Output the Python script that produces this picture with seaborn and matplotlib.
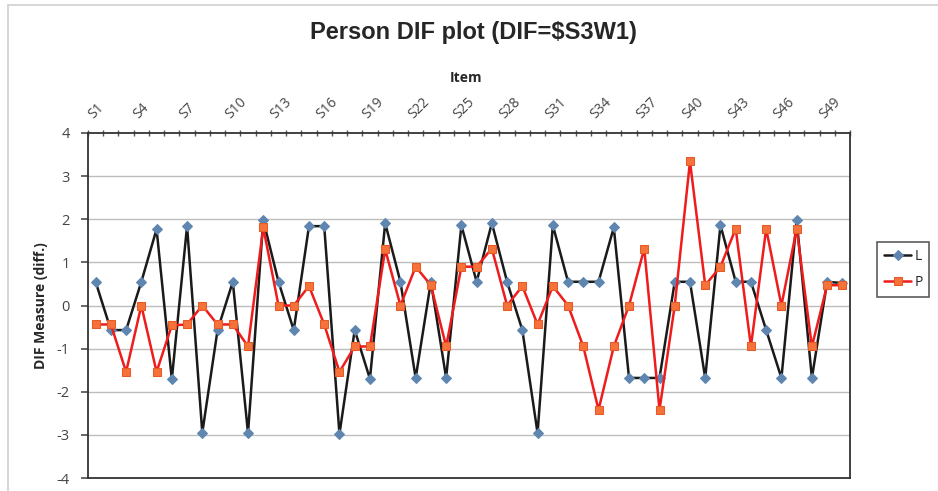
import numpy as np
import pandas as pd
import matplotlib
matplotlib.use("Agg")
import matplotlib.pyplot as plt
import seaborn as sns
from matplotlib.lines import Line2D

items = [f"S{i}" for i in range(1, 51)]
L_vals = [0.55, -0.57, -0.57, 0.55, 1.77, -1.71, 1.84, -2.95, -0.57, 0.55,
          -2.96, 1.98, 0.55, -0.57, 1.84, 1.84, -2.98, -0.57, -1.70, 1.91,
          0.55, -1.68, 0.55, -1.68, 1.86, 0.55, 1.91, 0.55, -0.57, -2.96,
          1.86, 0.55, 0.55, 0.55, 1.81, -1.68, -1.68, -1.68, 0.55, 0.55,
          -1.68, 1.86, 0.55, 0.55, -0.57, -1.68, 1.98, -1.68, 0.55, 0.52]
P_vals = [-0.44, -0.44, -1.54, 0.0, -1.54, -0.46, -0.44, 0.0, -0.44, -0.44,
          -0.95, 1.81, 0.0, 0.0, 0.45, -0.44, -1.54, -0.95, -0.95, 1.30,
          0.0, 0.90, 0.47, -0.95, 0.90, 0.90, 1.32, 0.0, 0.45, -0.44,
          0.45, 0.0, -0.95, -2.42, -0.95, 0.0, 1.32, -2.42, 0.0, 3.34,
          0.47, 0.90, 1.78, -0.95, 1.78, 0.0, 1.78, -0.95, 0.47, 0.47]
y_ticks = [-4, -3, -2, -1, 0, 1, 2, 3, 4]

df = pd.DataFrame({"pos": np.arange(len(items)), "item": items, "L": L_vals, "P": P_vals})

sns.set_theme(style="white")
plt.rcParams["font.family"] = ["Open Sans", "DejaVu Sans"]

fig = plt.figure(figsize=(9.38, 4.91), dpi=100)
ax = fig.add_axes([88/938, 1-478/491, (850-88)/938, (478-133)/491])

sns.lineplot(data=df, x="pos", y="L", ax=ax, color="#1a1a1a", lw=1.8,
             marker="D", markersize=5, markerfacecolor="#5f86b0",
             markeredgecolor="#5f86b0", label="L")
sns.lineplot(data=df, x="pos", y="P", ax=ax, color="#ee1c1c", lw=1.8,
             marker="s", markersize=6, markerfacecolor="#f5733a",
             markeredgecolor="#e85a25", label="P")

ax.set_xlim(-0.5, len(items) - 0.5)
ax.set_ylim(-4, 4)
ax.set_yticks(y_ticks)
ax.set_yticklabels([str(v) for v in y_ticks], fontsize=10.5, color="#444444")
for v in y_ticks[1:-1]:
    ax.axhline(v, color="#bdbdbd", lw=1.0, zorder=0)

ax.xaxis.tick_top()
ax.xaxis.set_label_position("top")
tick_pos = list(range(0, len(items), 3))
ax.set_xticks(tick_pos)
ax.set_xticklabels([items[i] for i in tick_pos], rotation=45, ha="left",
                   va="bottom", rotation_mode="anchor", fontsize=10, color="#444444")
ax.set_xticks(np.arange(-0.5, len(items), 1.0), minor=True)
ax.tick_params(axis="x", which="major", length=0, pad=8)
ax.tick_params(axis="x", which="minor", top=True, length=4, direction="inout", color="#555555")
ax.tick_params(axis="y", which="major", left=True, length=5, direction="out", color="#555555", pad=8)

for s in ax.spines.values():
    s.set_color("#333333")
    s.set_linewidth(1.3)

ax.set_xlabel("")
ax.set_ylabel("DIF Measure (diff.)", fontsize=10, fontweight="bold", labelpad=6)

fig.text(473/938, 1-33/491, "Person DIF plot (DIF=$S3W1)", ha="center", va="center",
         fontsize=17, fontweight="bold", family=["Liberation Sans", "DejaVu Sans"])
fig.text(466/938, 1-78/491, "Item", ha="center", va="center", fontsize=10, fontweight="bold")

leg = ax.legend(loc="upper left", bbox_to_anchor=(1.035, 0.685), frameon=True,
                fancybox=False, edgecolor="#333333", fontsize=10, handlelength=2.0,
                borderpad=0.5, labelspacing=0.8, handletextpad=0.2, borderaxespad=0)
leg.get_frame().set_linewidth(1.2)

fig.add_artist(Line2D([8/938, 8/938], [0, 1-5/491], transform=fig.transFigure, color="#d0d0d0", lw=1.2))
fig.add_artist(Line2D([8/938, 1], [1-5/491, 1-5/491], transform=fig.transFigure, color="#d0d0d0", lw=1.2))

fig.savefig("out.png", dpi=100)
